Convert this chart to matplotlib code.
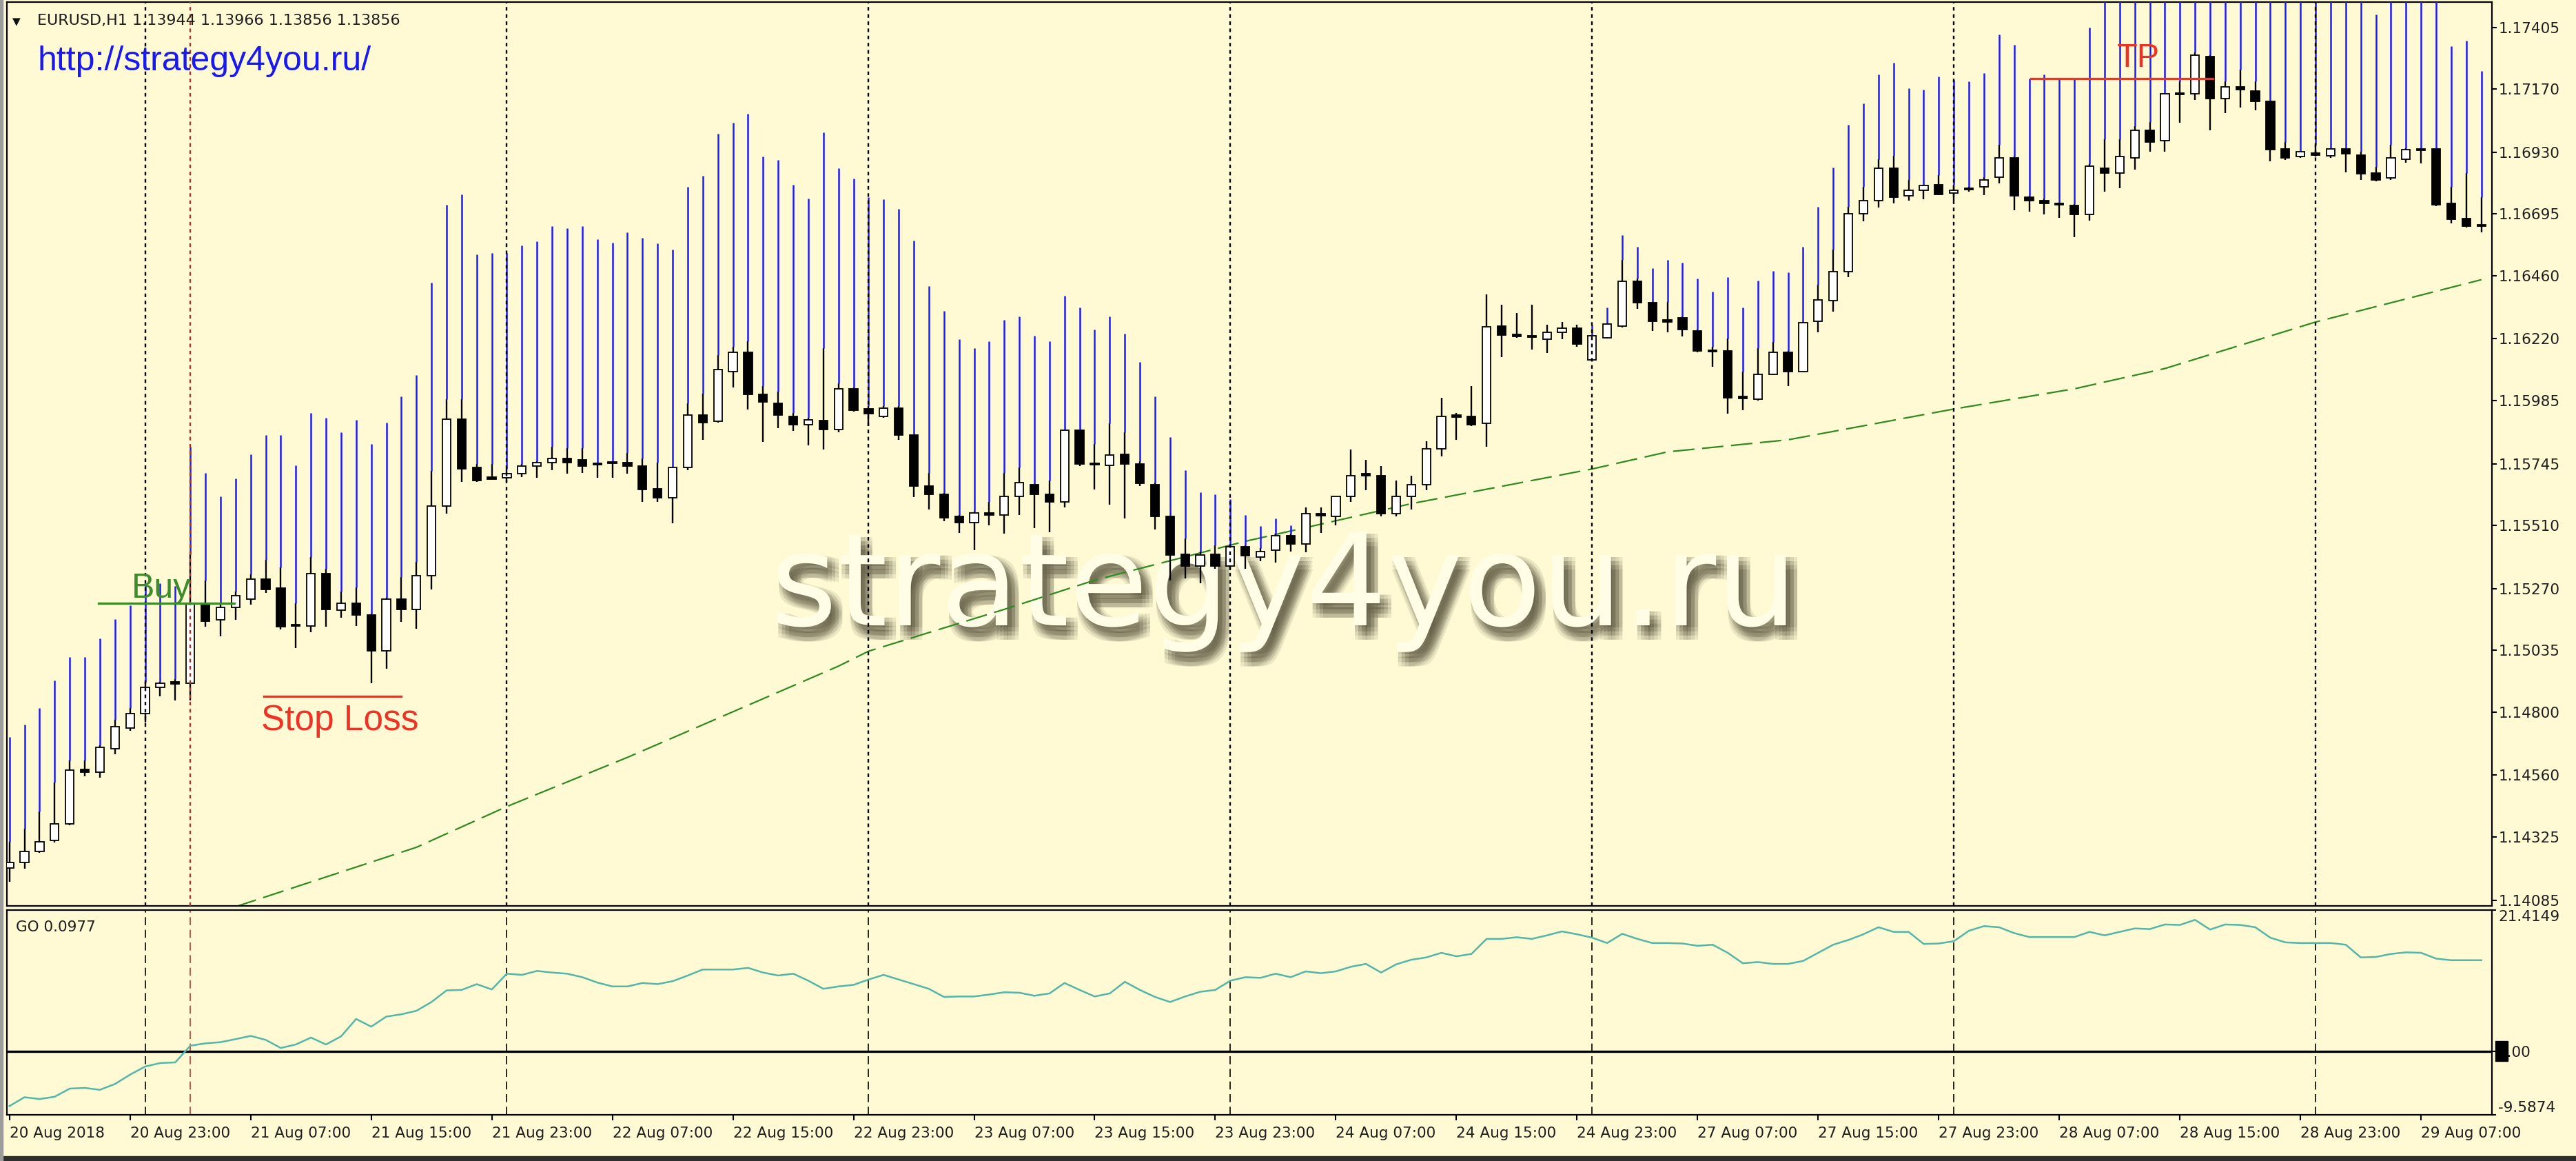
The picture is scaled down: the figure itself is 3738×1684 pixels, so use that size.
import numpy as np
import matplotlib
matplotlib.use('Agg')
import matplotlib.pyplot as plt
import matplotlib.patheffects as pe
from matplotlib.patches import Rectangle

BG = '#FFFAD4'

# EURUSD H1 candles, 20 Aug 15:00 .. 29 Aug 11:00
opens = [
    1.14207, 1.14229, 1.14269, 1.14313, 1.14375, 1.14582, 1.14573, 1.14662, 1.14739, 1.14794,
    1.14893, 1.14913, 1.14909, 1.15207, 1.15152, 1.15198, 1.15231, 1.15306, 1.15273, 1.15132,
    1.15129, 1.15328, 1.15187, 1.15213, 1.15169, 1.15032, 1.15229, 1.15191, 1.15319, 1.15584,
    1.15915, 1.15730, 1.15692, 1.15692, 1.15708, 1.15737, 1.15750, 1.15765, 1.15759, 1.15746,
    1.15750, 1.15750, 1.15737, 1.15650, 1.15615, 1.15732, 1.15929, 1.15906, 1.16096, 1.16169,
    1.16008, 1.15975, 1.15926, 1.15893, 1.15909, 1.15876, 1.16030, 1.15953, 1.15924, 1.15957,
    1.15853, 1.15659, 1.15628, 1.15544, 1.15522, 1.15556, 1.15551, 1.15620, 1.15664, 1.15628,
    1.15600, 1.15873, 1.15746, 1.15739, 1.15781, 1.15743, 1.15666, 1.15544, 1.15401, 1.15357,
    1.15401, 1.15357, 1.15430, 1.15390, 1.15416, 1.15472, 1.15441, 1.15553, 1.15544, 1.15622,
    1.15703, 1.15699, 1.15556, 1.15622, 1.15666, 1.15801, 1.15926, 1.15924, 1.15898, 1.16268,
    1.16233, 1.16229, 1.16218, 1.16244, 1.16260, 1.16140, 1.16224, 1.16268, 1.16438, 1.16357,
    1.16291, 1.16299, 1.16251, 1.16176, 1.16174, 1.15999, 1.15990, 1.16085, 1.16169, 1.16096,
    1.16288, 1.16366, 1.16476, 1.16697, 1.16747, 1.16869, 1.16763, 1.16785, 1.16807, 1.16774,
    1.16792, 1.16798, 1.16836, 1.16909, 1.16759, 1.16747, 1.16734, 1.16728, 1.16692, 1.16869,
    1.16851, 1.16909, 1.17012, 1.16973, 1.17154, 1.17151, 1.17295, 1.17134, 1.17178, 1.17162,
    1.17123, 1.16942, 1.16913, 1.16924, 1.16917, 1.16942, 1.16920, 1.16851, 1.16831, 1.16902,
    1.16940, 1.16942, 1.16736, 1.16677, 1.16652,
]
closes = [
    1.14227, 1.14269, 1.14308, 1.14375, 1.14580, 1.14573, 1.14666, 1.14745, 1.14794, 1.14893,
    1.14909, 1.14909, 1.15213, 1.15147, 1.15198, 1.15242, 1.15306, 1.15268, 1.15125, 1.15127,
    1.15328, 1.15191, 1.15213, 1.15169, 1.15032, 1.15229, 1.15191, 1.15319, 1.15584, 1.15915,
    1.15725, 1.15681, 1.15688, 1.15708, 1.15737, 1.15750, 1.15765, 1.15750, 1.15737, 1.15743,
    1.15750, 1.15737, 1.15648, 1.15615, 1.15732, 1.15929, 1.15902, 1.16103, 1.16169, 1.16008,
    1.15979, 1.15931, 1.15893, 1.15911, 1.15876, 1.16030, 1.15948, 1.15935, 1.15957, 1.15853,
    1.15659, 1.15628, 1.15540, 1.15522, 1.15558, 1.15551, 1.15620, 1.15672, 1.15628, 1.15600,
    1.15873, 1.15743, 1.15741, 1.15778, 1.15743, 1.15670, 1.15544, 1.15397, 1.15357, 1.15397,
    1.15357, 1.15430, 1.15394, 1.15412, 1.15472, 1.15441, 1.15556, 1.15549, 1.15622, 1.15699,
    1.15703, 1.15556, 1.15622, 1.15666, 1.15801, 1.15924, 1.15926, 1.15893, 1.16266, 1.16235,
    1.16233, 1.16229, 1.16246, 1.16260, 1.16200, 1.16233, 1.16277, 1.16438, 1.16357, 1.16288,
    1.16286, 1.16255, 1.16174, 1.16171, 1.15997, 1.15995, 1.16085, 1.16169, 1.16096, 1.16282,
    1.16368, 1.16476, 1.16697, 1.16747, 1.16869, 1.16759, 1.16785, 1.16803, 1.16770, 1.16785,
    1.16787, 1.16825, 1.16909, 1.16763, 1.16747, 1.16736, 1.16730, 1.16692, 1.16876, 1.16851,
    1.16913, 1.17012, 1.16968, 1.17151, 1.17149, 1.17299, 1.17134, 1.17178, 1.17167, 1.17123,
    1.16940, 1.16909, 1.16931, 1.16922, 1.16942, 1.16924, 1.16847, 1.16825, 1.16909, 1.16940,
    1.16940, 1.16730, 1.16675, 1.16648, 1.16650,
]
highs = [
    1.14308, 1.14357, 1.14423, 1.14533, 1.14617, 1.14617, 1.14673, 1.14772, 1.14816, 1.14915,
    1.14915, 1.14926, 1.15401, 1.15302, 1.15213, 1.15258, 1.15324, 1.15379, 1.15350, 1.15213,
    1.15390, 1.15346, 1.15258, 1.15275, 1.15174, 1.15235, 1.15313, 1.15372, 1.15717, 1.15990,
    1.15990, 1.15743, 1.15743, 1.15725, 1.15743, 1.15754, 1.15809, 1.15803, 1.15803, 1.15748,
    1.15754, 1.15787, 1.15765, 1.15750, 1.15732, 1.15975, 1.16012, 1.16158, 1.16191, 1.16211,
    1.16041, 1.16019, 1.15937, 1.15920, 1.16185, 1.16052, 1.16034, 1.15964, 1.15964, 1.15964,
    1.15853, 1.15710, 1.15633, 1.15549, 1.15562, 1.15600, 1.15710, 1.15732, 1.15666, 1.15681,
    1.15876, 1.15876, 1.15820, 1.15898, 1.15865, 1.15754, 1.15672, 1.15544, 1.15461, 1.15412,
    1.15434, 1.15434, 1.15434, 1.15423, 1.15478, 1.15478, 1.15578, 1.15578, 1.15622, 1.15798,
    1.15759, 1.15737, 1.15681, 1.15699, 1.15831, 1.15997, 1.15937, 1.16041, 1.16390, 1.16350,
    1.16317, 1.16350, 1.16273, 1.16284, 1.16273, 1.16233, 1.16277, 1.16520, 1.16449, 1.16361,
    1.16361, 1.16306, 1.16255, 1.16189, 1.16222, 1.16096, 1.16185, 1.16207, 1.16174, 1.16284,
    1.16427, 1.16560, 1.16721, 1.16798, 1.16902, 1.16917, 1.16825, 1.16807, 1.16842, 1.16807,
    1.16798, 1.16836, 1.16957, 1.16913, 1.16763, 1.16754, 1.16736, 1.16732, 1.16884, 1.16979,
    1.16979, 1.17028, 1.17045, 1.17156, 1.17200, 1.17310, 1.17299, 1.17200, 1.17244, 1.17200,
    1.17123, 1.16968, 1.16931, 1.16957, 1.16946, 1.16946, 1.16931, 1.16873, 1.16957, 1.16946,
    1.16946, 1.16946, 1.16798, 1.16851, 1.16759,
]
lows = [
    1.14154, 1.14205, 1.14264, 1.14304, 1.14370, 1.14556, 1.14551, 1.14639, 1.14728, 1.14761,
    1.14860, 1.14845, 1.14845, 1.15125, 1.15088, 1.15152, 1.15209, 1.15253, 1.15114, 1.15043,
    1.15103, 1.15125, 1.15158, 1.15129, 1.14909, 1.14966, 1.15143, 1.15118, 1.15268, 1.15556,
    1.15677, 1.15677, 1.15686, 1.15677, 1.15695, 1.15692, 1.15721, 1.15706, 1.15710, 1.15692,
    1.15692, 1.15706, 1.15600, 1.15600, 1.15518, 1.15721, 1.15836, 1.15902, 1.16034, 1.15951,
    1.15827, 1.15880, 1.15871, 1.15814, 1.15798, 1.15865, 1.15942, 1.15887, 1.15920, 1.15836,
    1.15617, 1.15571, 1.15527, 1.15483, 1.15416, 1.15511, 1.15478, 1.15549, 1.15500, 1.15485,
    1.15578, 1.15737, 1.15648, 1.15589, 1.15538, 1.15661, 1.15494, 1.15302, 1.15308, 1.15291,
    1.15346, 1.15341, 1.15346, 1.15374, 1.15368, 1.15412, 1.15408, 1.15483, 1.15511, 1.15600,
    1.15644, 1.15544, 1.15544, 1.15571, 1.15644, 1.15772, 1.15836, 1.15887, 1.15809, 1.16151,
    1.16224, 1.16180, 1.16167, 1.16218, 1.16189, 1.16136, 1.16222, 1.16262, 1.16333, 1.16251,
    1.16244, 1.16229, 1.16169, 1.16114, 1.15935, 1.15948, 1.15986, 1.16081, 1.16041, 1.16094,
    1.16244, 1.16324, 1.16454, 1.16666, 1.16719, 1.16736, 1.16747, 1.16752, 1.16767, 1.16747,
    1.16781, 1.16767, 1.16812, 1.16710, 1.16703, 1.16692, 1.16679, 1.16608, 1.16670, 1.16781,
    1.16792, 1.16864, 1.16931, 1.16931, 1.17041, 1.17129, 1.17012, 1.17079, 1.17101, 1.17090,
    1.16895, 1.16900, 1.16909, 1.16913, 1.16909, 1.16853, 1.16825, 1.16818, 1.16825, 1.16891,
    1.16887, 1.16725, 1.16659, 1.16644, 1.16626,
]
nan = float('nan')
# upper end of the blue indicator bars (nan = no bar, 1.1760 = runs off the top)
blue_tops = [
    1.14706, 1.14754, 1.14816, 1.14920, 1.15010, 1.15010, 1.15081, 1.15154, 1.15207, 1.15291,
    1.15291, 1.15280, 1.15809, 1.15710, 1.15622, 1.15688, 1.15781, 1.15853, 1.15853, 1.15739,
    1.15937, 1.15920, 1.15865, 1.15911, 1.15820, 1.15902, 1.16001, 1.16081, 1.16434, 1.16730,
    1.16770, 1.16542, 1.16547, 1.16547, 1.16575, 1.16591, 1.16648, 1.16642, 1.16648, 1.16600,
    1.16586, 1.16626, 1.16604, 1.16582, 1.16560, 1.16798, 1.16840, 1.17001, 1.17043, 1.17076,
    1.16913, 1.16900, 1.16807, 1.16754, 1.17006, 1.16869, 1.16829, 1.16759, 1.16752, 1.16714,
    1.16593, 1.16421, 1.16326, 1.16218, 1.16185, 1.16211, 1.16293, 1.16304, 1.16233, 1.16211,
    1.16383, 1.16339, 1.16255, 1.16304, 1.16240, 1.16132, 1.16001, 1.15847, 1.15721, 1.15637,
    1.15628, 1.15611, 1.15551, 1.15507, 1.15538, 1.15511, nan, nan, nan, nan,
    nan, nan, nan, nan, nan, nan, nan, nan, nan, nan,
    nan, nan, nan, nan, nan, 1.16273, 1.16339, 1.16615, 1.16571, 1.16489,
    1.16520, 1.16511, 1.16449, 1.16399, 1.16454, 1.16339, 1.16441, 1.16478, 1.16472, 1.16571,
    1.16723, 1.16871, 1.17034, 1.17116, 1.17226, 1.17271, 1.17173, 1.17167, 1.17218, 1.17204,
    1.17200, 1.17231, 1.17377, 1.17339, 1.17211, 1.17226, 1.17207, 1.17207, 1.17405, 1.1760,
    1.1760, 1.1760, 1.1760, 1.1760, 1.1760, 1.1760, 1.1760, 1.1760, 1.1760, 1.1760,
    1.1760, 1.1760, 1.1760, 1.1760, 1.1760, 1.1760, 1.1760, 1.17454, 1.1760, 1.1760,
    1.1760, 1.1760, 1.17332, 1.17355, 1.17240,
]

# green dashed moving average, read at a few bars
ma_bars = [15, 27, 33, 41, 55, 57, 66, 72, 82, 93, 105, 110, 118, 129, 137, 143, 153, 164]
ma_vals = [1.14060, 1.14286, 1.14441, 1.14628, 1.14975, 1.15032, 1.15191, 1.15302, 1.15450,
           1.15593, 1.15725, 1.15790, 1.15836, 1.15953, 1.16030, 1.16107, 1.16284, 1.16445]

# GO oscillator (lower window)
go_vals = [
    -8.26, -6.92, -7.20, -6.85, -5.62, -5.52, -5.80, -4.92, -3.51, -2.28,
    -1.75, -1.65, 0.88, 1.23, 1.41, 1.87, 2.36, 1.76, 0.53, 1.06,
    2.11, 1.06, 2.29, 4.92, 3.76, 5.28, 5.63, 6.16, 7.49, 9.25,
    9.32, 10.20, 9.39, 11.78, 11.60, 12.20, 11.95, 11.78, 11.25, 10.44,
    9.85, 9.85, 10.37, 10.20, 10.65, 11.50, 12.41, 12.41, 12.41, 12.66,
    11.95, 11.50, 11.78, 10.72, 9.49, 9.85, 10.09, 10.90, 11.60, 10.90,
    10.20, 9.49, 8.26, 8.33, 8.33, 8.62, 8.97, 8.90, 8.44, 8.79,
    10.37, 9.32, 8.33, 8.79, 10.55, 9.32, 8.26, 7.49, 8.33, 9.04,
    9.32, 10.72, 11.25, 11.15, 11.78, 11.25, 12.13, 11.85, 12.13, 12.83,
    13.26, 11.95, 13.19, 13.89, 14.24, 14.94, 14.41, 14.77, 17.05, 17.05,
    17.30, 17.05, 17.58, 18.18, 17.75, 17.23, 16.42, 17.82, 17.05, 16.42,
    16.42, 16.35, 16.00, 16.17, 14.94, 13.36, 13.54, 13.26, 13.26, 13.71,
    14.94, 16.17, 16.88, 17.75, 18.81, 18.11, 18.11, 16.28, 16.35, 16.70,
    18.28, 18.98, 18.81, 17.93, 17.33, 17.33, 17.33, 17.33, 18.11, 17.58,
    18.11, 18.63, 18.53, 19.23, 19.16, 19.93, 18.46, 19.23, 19.16, 18.81,
    17.23, 16.52, 16.42, 16.42, 16.42, 16.17, 14.24, 14.31, 14.77, 15.01,
    14.94, 14.06, 13.82, 13.82, 13.82,
]

price_ticks = [1.17405, 1.17170, 1.16930, 1.16695, 1.16460, 1.16220, 1.15985, 1.15745,
               1.15510, 1.15270, 1.15035, 1.14800, 1.14560, 1.14325, 1.14085]
go_ticks = [21.4149, 0.0, -9.5874]
go_tick_labels = ['21.4149', '0.00', '-9.5874']
time_labels = ['20 Aug 2018', '20 Aug 23:00', '21 Aug 07:00', '21 Aug 15:00', '21 Aug 23:00',
               '22 Aug 07:00', '22 Aug 15:00', '22 Aug 23:00', '23 Aug 07:00', '23 Aug 15:00',
               '23 Aug 23:00', '24 Aug 07:00', '24 Aug 15:00', '24 Aug 23:00', '27 Aug 07:00',
               '27 Aug 15:00', '27 Aug 23:00', '28 Aug 07:00', '28 Aug 15:00', '28 Aug 23:00',
               '29 Aug 07:00']
day_bars = [9, 33, 57, 81, 105, 129, 153]
marker_bar = 12

buy_level, buy_span = 1.15213, (5.9, 14.9)
sl_level, sl_span = 1.14860, (16.9, 26.0)
tp_level, tp_span = 1.17211, (134.1, 146.2)

W, H = 3738, 1684
fig = plt.figure(figsize=(W / 100, H / 100), dpi=100, facecolor=BG)
ax = fig.add_axes([10 / W, 370 / H, 3606 / W, 1311 / H], facecolor=BG)
ax2 = fig.add_axes([10 / W, 67 / H, 3606 / W, 297 / H], facecolor=BG)

x = np.arange(len(opens))
o = np.array(opens); c = np.array(closes)
hi = np.array(highs); lo = np.array(lows); bt = np.array(blue_tops)

# wicks + blue bars
ax.vlines(x, lo, hi, color='black', lw=1.7, zorder=3)
m = ~np.isnan(bt)
ax.vlines(x[m], hi[m], bt[m], color='#1A1AFF', lw=1.8, zorder=3)

# bodies
bottom = np.minimum(o, c)
height = np.abs(c - o)
doji = height < 0.00006
bottom = np.where(doji, (o + c) / 2 - 0.00003, bottom)
height = np.where(doji, 0.00006, height)
face = np.where((c > o) & ~doji, 'white', 'black')
ax.bar(x, height, bottom=bottom, width=0.56, color=face, edgecolor='black', lw=1.3, zorder=4)

# moving average
ax.plot(ma_bars, ma_vals, color='#2F8A1F', lw=1.6, ls=(0, (14, 5)), zorder=2.5)

# separators
for b in day_bars:
    ax.axvline(b, color='black', lw=1.7, ls=(0, (2.2, 2.2)), zorder=5)
    ax2.axvline(b, color='black', lw=1.2, ls=(0, (7, 4)), zorder=2)
ax.axvline(marker_bar, color='#A8342C', lw=1.7, ls=(0, (2.2, 2.2)), zorder=5)
ax2.axvline(marker_bar, color='#B83A30', lw=1.2, ls=(0, (7, 4)), zorder=2)

# trade levels
ax.plot(buy_span, [buy_level] * 2, color='#3C8C2C', lw=2.4, zorder=6)
ax.text(8.1, buy_level + 0.00022, 'Buy', color='#3C8C2C', fontsize=36,
        family='Liberation Sans', va='baseline', zorder=6)
ax.plot(sl_span, [sl_level] * 2, color='#EE3326', lw=2.4, zorder=6)
ax.text(16.7, sl_level - 0.00128, 'Stop Loss', color='#EE3326', fontsize=37,
        family='Liberation Sans', va='baseline', zorder=6)
ax.plot(tp_span, [tp_level] * 2, color='#EE3326', lw=2.4, zorder=6)
ax.text(139.8, tp_level + 0.00043, 'TP', color='#EE3326', fontsize=35,
        family='Liberation Sans', va='baseline', zorder=6)

# watermark with soft shadow
shadow = []
for dx in np.linspace(1, 12, 4):
    for dy in np.linspace(-2, -15, 4):
        shadow.append(pe.SimplePatchShadow(offset=(dx, dy), shadow_rgbFace='#4A4630', alpha=0.1))
ax.text(1118 / W, 1 - 907 / H, 'strategy4you.ru', transform=fig.transFigure,
        fontsize=134, color='#FFFDE6', va='baseline', ha='left', zorder=1,
        path_effects=shadow + [pe.Normal()])

ax.set_xlim(-0.17, 164.7)
ax.set_ylim(1.14063, 1.17501)
ax.set_xticks([])
ax.yaxis.tick_right()
ax.set_yticks(price_ticks)
ax.set_yticklabels([f'{v:.5f}' for v in price_ticks])
ax.tick_params(axis='y', length=5, width=1.5, pad=2, labelsize=15.5, labelcolor='#1E1E1E')

# GO window
ax2.axhline(0, color='black', lw=2.4, zorder=3)
ax2.plot(x, go_vals, color='#52B6A9', lw=1.8, zorder=4)
ax2.set_xlim(-0.17, 164.7)
ax2.set_ylim(-9.5874, 21.4149)
ax2.yaxis.tick_right()
ax2.set_yticks(go_ticks)
ax2.set_yticklabels(go_tick_labels)
ax2.tick_params(axis='y', length=4, width=1.5, pad=2.5, labelsize=15.5, labelcolor='#1E1E1E')
ylbl = ax2.get_yticklabels()
ylbl[0].set_va('top')
ylbl[2].set_va('bottom')
ax2.set_xticks(np.arange(0, len(time_labels) * 8, 8))
ax2.set_xticklabels(time_labels)
ax2.tick_params(axis='x', length=6, width=1.5, pad=6, labelsize=15.5, labelcolor='#1E1E1E')
for lbl in ax2.get_xticklabels():
    lbl.set_ha('left')
ax2.text(0.0035, 0.915, 'GO 0.0977', transform=ax2.transAxes, fontsize=15.5,
         color='#1E1E1E', va='center')

for a in (ax, ax2):
    for s in a.spines.values():
        s.set_linewidth(1.6)
        s.set_color('black')

# header texts
fig.text(18 / W, 1 - 36 / H, '\u25bc', fontsize=11, color='#111111', va='baseline')
fig.text(54 / W, 1 - 36 / H, 'EURUSD,H1 1.13944 1.13966 1.13856 1.13856', fontsize=16,
         color='#1E1E1E', va='baseline')
fig.text(54 / W, 1 - 102 / H, 'http://strategy4you.ru/', fontsize=36, family='Liberation Sans',
         color='#1818F2', va='baseline')

# current value marker on the GO scale and window frame
fig.patches.append(Rectangle((3621 / W, (H - 1539) / H), 18 / W, 29 / H,
                             transform=fig.transFigure, color='black', zorder=5))
fig.patches.append(Rectangle((0, 0), 1, 7 / H, transform=fig.transFigure,
                             color='#2E2E2E', zorder=5))
fig.patches.append(Rectangle((0, 0), 4 / W, 1, transform=fig.transFigure,
                             color='#9C9C9C', zorder=5))

fig.savefig('out.png', dpi=100, facecolor=BG)
